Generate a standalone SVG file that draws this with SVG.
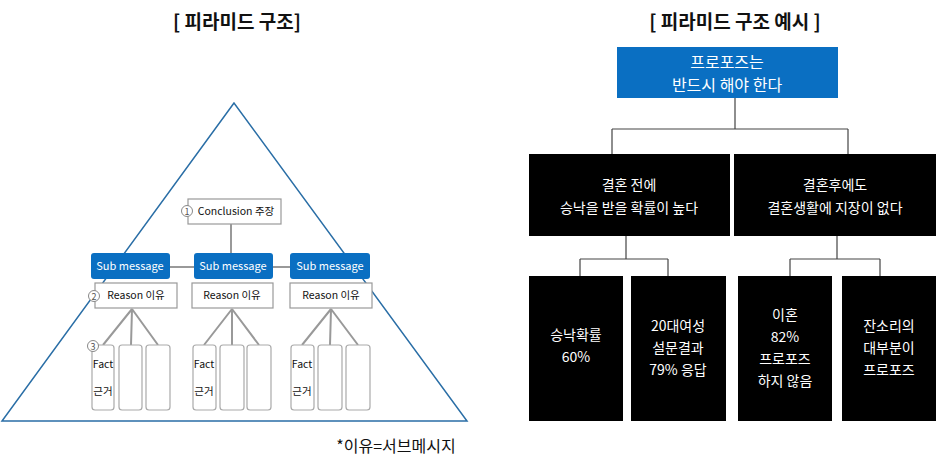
<svg xmlns="http://www.w3.org/2000/svg" width="936" height="475" viewBox="0 0 936 475">
<style>
text{font-family:"Noto Sans CJK KR","Noto Sans",sans-serif;text-anchor:middle}
.t{font-size:19px;font-weight:bold;fill:#111}
.sub{fill:#0a6fc2;stroke:none}
.st{fill:#fff;font-size:11px}
.wb{fill:#fff;stroke:#999;stroke-width:1.2}
.s{font-size:10.5px;fill:#111}
.fb{fill:#fff;stroke:#aaa;stroke-width:1.2}
.g{stroke:#999;stroke-width:2;fill:none}
.k{stroke:#444;stroke-width:1.2;fill:none}
.bk{fill:#000}
.bt{fill:#fff;font-size:14px}
.c{fill:#fff;stroke:#888;stroke-width:1}
.cn{font-size:9px;fill:#555}
</style>
<text class="t" x="237" y="29">[ 피라미드 구조]</text>
<text class="t" x="735" y="29">[ 피라미드 구조 예시 ]</text>
<polygon points="234,103 2,421 467,421" fill="none" stroke="#2a6ea6" stroke-width="1.5"/>
<g id="connectors">
<line class="g" x1="231" y1="224" x2="231" y2="254"/>
<line class="g" x1="170" y1="267" x2="290" y2="267"/>
<path class="g" d="M132,309 L103,345 M132,309 L131,345 M132,309 L158,345"/>
<path class="g" d="M232,309 L204,345 M232,309 L232,345 M232,309 L259,345"/>
<path class="g" d="M331,309 L302,345 M331,309 L330,345 M331,309 L358,345"/>
<path class="k" d="M735,98 V129 M612,129 H848 M612,129 V154 M848,129 V154"/>
<path class="k" d="M626,236 V259 M580,259 H668 M580,259 V276 M668,259 V276"/>
<path class="k" d="M837,236 V259 M790,259 H880 M790,259 V276 M880,259 V276"/>
</g>
<g id="conclusion"><rect class="wb" x="188" y="199" width="93" height="25"/><text class="s" x="236" y="215">Conclusion 주장</text><circle class="c" cx="187" cy="211" r="5.5"/><text class="cn" x="187" y="214.5">1</text></g>
<g id="sub1"><rect class="sub" x="91" y="253" width="79" height="26" rx="3"/><text class="st" x="130" y="270">Sub message</text></g>
<g id="sub2"><rect class="sub" x="194" y="253" width="79" height="26" rx="3"/><text class="st" x="233" y="270">Sub message</text></g>
<g id="sub3"><rect class="sub" x="290" y="253" width="80" height="26" rx="3"/><text class="st" x="330" y="270">Sub message</text></g>
<g id="reason1"><rect class="wb" x="95" y="283" width="82" height="25"/><text class="s" x="136" y="299">Reason 이유</text><circle class="c" cx="94" cy="296" r="5.5"/><text class="cn" x="94" y="299.5">2</text></g>
<g id="reason2"><rect class="wb" x="192" y="283" width="81" height="25"/><text class="s" x="232" y="299">Reason 이유</text></g>
<g id="reason3"><rect class="wb" x="290" y="283" width="82" height="25"/><text class="s" x="331" y="299">Reason 이유</text></g>
<g id="facts1"><rect class="fb" x="92" y="345" width="22" height="65" rx="3"/><rect class="fb" x="119" y="345" width="23" height="65" rx="3"/><rect class="fb" x="146" y="345" width="24" height="65" rx="3"/><text class="s" x="103" y="368">Fact</text><text class="s" x="103" y="395">근거</text><circle class="c" cx="93" cy="346" r="5.5"/><text class="cn" x="93" y="349.5">3</text></g>
<g id="facts2"><rect class="fb" x="193" y="345" width="23" height="65" rx="3"/><rect class="fb" x="220" y="345" width="24" height="65" rx="3"/><rect class="fb" x="247" y="345" width="24" height="65" rx="3"/><text class="s" x="204" y="368">Fact</text><text class="s" x="204" y="395">근거</text></g>
<g id="facts3"><rect class="fb" x="291" y="345" width="23" height="65" rx="3"/><rect class="fb" x="318" y="345" width="24" height="65" rx="3"/><rect class="fb" x="346" y="345" width="24" height="65" rx="3"/><text class="s" x="302" y="368">Fact</text><text class="s" x="302" y="395">근거</text></g>
<text x="396" y="452" style="font-size:16px;fill:#111">*이유=서브메시지</text>
<g id="top"><rect x="617" y="47" width="221" height="51" fill="#0a6fc2"/><text class="bt" x="727" y="68" style="font-size:16px">프로포즈는</text><text class="bt" x="727" y="91" style="font-size:16px">반드시 해야 한다</text></g>
<g id="b1"><rect class="bk" x="529" y="154" width="201" height="82"/><text class="bt" x="629" y="190">결혼 전에</text><text class="bt" x="629" y="213">승낙을 받을 확률이 높다</text></g>
<g id="b2"><rect class="bk" x="734" y="154" width="202" height="82"/><text class="bt" x="835" y="190">결혼후에도</text><text class="bt" x="835" y="213">결혼생활에 지장이 없다</text></g>
<g id="l1"><rect class="bk" x="529" y="276" width="94" height="145"/><text class="bt" x="576" y="340">승낙확률</text><text class="bt" x="576" y="362">60%</text></g>
<g id="l2"><rect class="bk" x="631" y="276" width="95" height="145"/><text class="bt" x="678" y="331">20대여성</text><text class="bt" x="678" y="353">설문결과</text><text class="bt" x="678" y="375">79% 응답</text></g>
<g id="l3"><rect class="bk" x="738" y="276" width="94" height="145"/><text class="bt" x="785" y="320">이혼</text><text class="bt" x="785" y="342">82%</text><text class="bt" x="785" y="364">프로포즈</text><text class="bt" x="785" y="386">하지 않음</text></g>
<g id="l4"><rect class="bk" x="842" y="276" width="94" height="145"/><text class="bt" x="889" y="331">잔소리의</text><text class="bt" x="889" y="353">대부분이</text><text class="bt" x="889" y="375">프로포즈</text></g>
</svg>
